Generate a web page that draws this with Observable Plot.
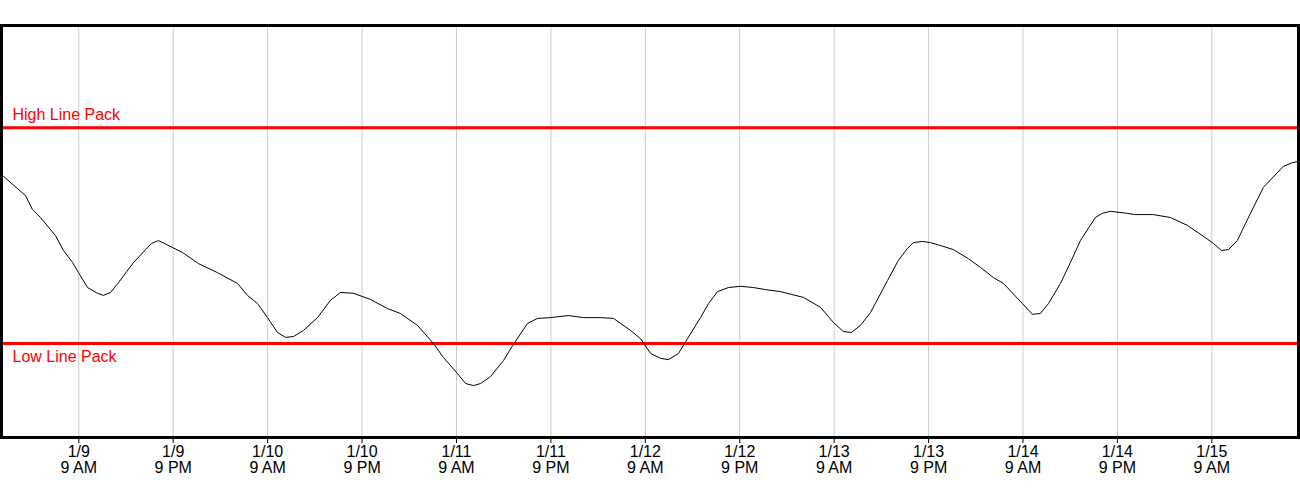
<!DOCTYPE html>
<html>
<head>
<meta charset="utf-8">
<script src="https://cdn.jsdelivr.net/npm/d3@7"></script>
<script src="https://cdn.jsdelivr.net/npm/@observablehq/plot@0.6"></script>
<style>
  html, body { margin: 0; padding: 0; background: #fff; }
  #chart svg { display: block; }
</style>
</head>
<body>
<div id="chart"></div>
<script>
// Line pack readings (relative units), times in UTC
const times = [
  "2024-01-08T23:11","2024-01-09T02:14","2024-01-09T03:07","2024-01-09T04:08","2024-01-09T06:02",
  "2024-01-09T07:03","2024-01-09T08:12","2024-01-09T08:58","2024-01-09T10:07","2024-01-09T11:23",
  "2024-01-09T12:08","2024-01-09T13:02","2024-01-09T14:03","2024-01-09T15:58","2024-01-09T18:14",
  "2024-01-09T19:08","2024-01-09T22:11","2024-01-10T00:13","2024-01-10T02:38","2024-01-10T05:10",
  "2024-01-10T06:26","2024-01-10T07:43","2024-01-10T08:59","2024-01-10T10:15","2024-01-10T11:16",
  "2024-01-10T12:17","2024-01-10T13:34","2024-01-10T15:20","2024-01-10T16:59","2024-01-10T18:16",
  "2024-01-10T19:55","2024-01-10T22:04","2024-01-11T00:14","2024-01-11T01:53","2024-01-11T04:03",
  "2024-01-11T06:05","2024-01-11T07:21","2024-01-11T09:08","2024-01-11T10:09","2024-01-11T11:10",
  "2024-01-11T12:04","2024-01-11T13:20","2024-01-11T14:59","2024-01-11T16:08","2024-01-11T18:02",
  "2024-01-11T19:18","2024-01-11T20:57","2024-01-11T23:14","2024-01-12T01:09","2024-01-12T03:19",
  "2024-01-12T04:58","2024-01-12T07:07","2024-01-12T08:23","2024-01-12T09:40","2024-01-12T10:56",
  "2024-01-12T11:57","2024-01-12T13:13","2024-01-12T14:22","2024-01-12T16:01","2024-01-12T17:02",
  "2024-01-12T18:10","2024-01-12T19:34","2024-01-12T21:06","2024-01-12T22:45","2024-01-13T00:16",
  "2024-01-13T02:11","2024-01-13T05:06","2024-01-13T07:16","2024-01-13T08:55","2024-01-13T10:11",
  "2024-01-13T11:12","2024-01-13T12:20","2024-01-13T13:37","2024-01-13T15:47","2024-01-13T17:10",
  "2024-01-13T18:19","2024-01-13T19:05","2024-01-13T20:13","2024-01-13T21:14","2024-01-13T22:31",
  "2024-01-14T00:10","2024-01-14T02:04","2024-01-14T03:35","2024-01-14T05:15","2024-01-14T06:31",
  "2024-01-14T08:56","2024-01-14T10:12","2024-01-14T11:13","2024-01-14T12:14","2024-01-14T13:46",
  "2024-01-14T15:02","2024-01-14T16:18","2024-01-14T18:12","2024-01-14T19:05","2024-01-14T20:07",
  "2024-01-14T22:16","2024-01-14T23:17","2024-01-15T01:34","2024-01-15T03:44","2024-01-15T05:53",
  "2024-01-15T08:11","2024-01-15T09:12","2024-01-15T10:13","2024-01-15T11:06","2024-01-15T12:15",
  "2024-01-15T13:16","2024-01-15T15:33","2024-01-15T18:05","2024-01-15T19:14","2024-01-15T19:58"
];
const values = [
  63.8,58.7,55.3,53.4,49.0,
  45.4,42.5,40.0,36.4,35.0,
  34.5,35.2,37.6,42.5,47.1,
  47.8,44.9,42.2,40.0,37.4,
  34.5,32.5,29.1,25.5,24.3,
  24.5,26.0,29.1,33.3,35.2,
  35.0,33.5,31.3,30.1,27.2,
  22.8,19.4,15.5,13.1,12.6,
  13.1,14.8,18.7,22.3,27.7,
  28.9,29.1,29.6,29.1,29.1,
  28.9,26.0,24.0,20.4,19.2,
  18.9,20.4,24.0,29.1,32.5,
  35.4,36.4,36.7,36.4,35.9,
  35.4,34.0,31.6,27.9,25.7,
  25.5,27.2,30.3,38.1,43.0,
  45.9,47.3,47.6,47.3,46.6,
  45.6,43.4,41.3,38.8,37.4,
  32.5,29.9,30.1,32.5,37.4,
  42.5,47.8,53.4,54.4,54.9,
  54.4,54.1,54.1,53.4,51.5,
  48.5,47.1,45.4,45.6,47.8,
  51.9,60.7,65.8,66.7,67.0
];
const thresholdLabels = ["High Line Pack", "Low Line Pack"];
const thresholdValues = [75.2, 22.8];
const tickTimes = [
  "2024-01-09T09:00","2024-01-09T21:00","2024-01-10T09:00","2024-01-10T21:00",
  "2024-01-11T09:00","2024-01-11T21:00","2024-01-12T09:00","2024-01-12T21:00",
  "2024-01-13T09:00","2024-01-13T21:00","2024-01-14T09:00","2024-01-14T21:00",
  "2024-01-15T09:00"
];
const xDomain = ["2024-01-08T23:10:30", "2024-01-15T20:01:00"];

const parse = s => new Date(s + "Z");
const data = times.map((t, i) => ({time: parse(t), value: values[i]}));
const thresholds = thresholdLabels.map((l, i) => ({label: l, value: thresholdValues[i]}));
const ticks = tickTimes.map(parse);

const fmt = d => {
  const h = d.getUTCHours();
  return `${d.getUTCMonth() + 1}/${d.getUTCDate()}\n${h % 12 || 12} ${h < 12 ? "AM" : "PM"}`;
};

const chart = Plot.plot({
  width: 1300,
  height: 500,
  marginTop: 25,
  marginBottom: 63,
  marginLeft: 1,
  marginRight: 2,
  style: {fontFamily: "'Liberation Sans', Arial, sans-serif", fontSize: "16px", background: "#fff"},
  x: {type: "utc", domain: xDomain.map(parse)},
  y: {domain: [0, 100], axis: null},
  marks: [
    Plot.ruleX(ticks, {stroke: "#cccccc", strokeWidth: 1, strokeOpacity: 1}),
    Plot.ruleY(thresholds, {y: "value", stroke: "#ff0000", strokeWidth: 3}),
    Plot.text([thresholds[0]], {y: "value", text: "label", frameAnchor: "left", textAnchor: "start", dx: 11, dy: -13, fill: "#ff0000", fontSize: 16}),
    Plot.text([thresholds[1]], {y: "value", text: "label", frameAnchor: "left", textAnchor: "start", dx: 11, dy: 13, fill: "#ff0000", fontSize: 16}),
    Plot.line(data, {x: "time", y: "value", stroke: "#000", strokeWidth: 1}),
    Plot.axisX({ticks: ticks, tickFormat: fmt, tickSize: 6, tickPadding: 2, fontSize: 16, lineHeight: 1, fill: "#000", stroke: "#000"}),
    Plot.frame({stroke: "#000", strokeWidth: 3})
  ]
});
document.getElementById("chart").appendChild(chart);
</script>
</body>
</html>
